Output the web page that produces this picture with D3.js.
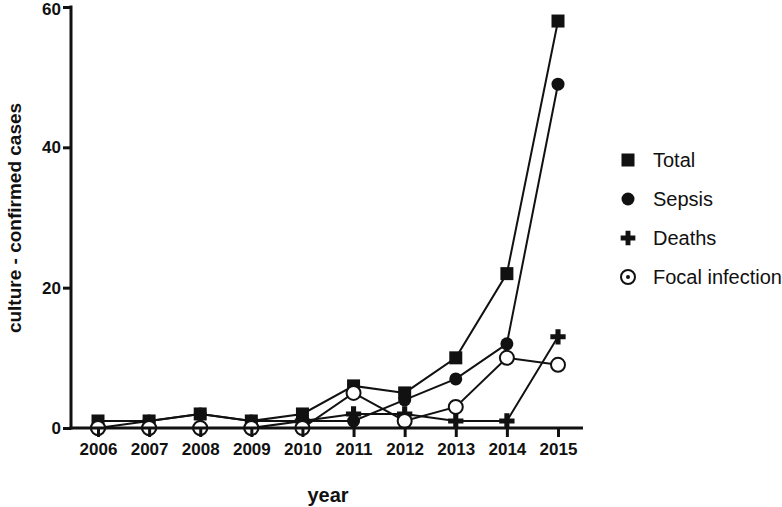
<!DOCTYPE html>
<html>
<head>
<meta charset="utf-8">
<style>
body { margin: 0; background: #fff; }
text { font-family: "Liberation Sans", Arial, sans-serif; fill: #111; }
.axis text { font-weight: bold; font-size: 17px; }
.axis path, .axis line { stroke: #111; stroke-width: 3px; }
.series { fill: none; stroke: #111; stroke-width: 2px; }
</style>
</head>
<body>
<script src="https://cdn.jsdelivr.net/npm/d3@7"></script>
<script>

var years = [2006, 2007, 2008, 2009, 2010, 2011, 2012, 2013, 2014, 2015];
var total = [1, 1, 2, 1, 2, 6, 5, 10, 22, 58];
var sepsis = [0, 1, 2, 1, 1, 1, 4, 7, 12, 49];
var deaths = [0, 0, 0, 0, 1, 2, 2, 1, 1, 13];
var focal = [0, 0, 0, 0, 0, 5, 1, 3, 10, 9];
var yTicks = [0, 20, 40, 60];

var series = [
  {name: "Total", values: total, shape: "square"},
  {name: "Sepsis", values: sepsis, shape: "circle"},
  {name: "Deaths", values: deaths, shape: "plus"},
  {name: "Focal infection", values: focal, shape: "open"}
];

var width = 782, height = 507;

var svg = d3.select("body").append("svg")
    .attr("width", width)
    .attr("height", height);

var x = d3.scaleLinear().domain([2006, 2015]).range([98, 558]);
var y = d3.scaleLinear().domain([0, 60]).range([428, 7]);

var line = d3.line()
    .x(function(d, i) { return x(years[i]); })
    .y(function(d) { return y(d); });

svg.append("g").selectAll("path")
    .data(series)
    .enter().append("path")
    .attr("class", "series")
    .attr("d", function(s) { return line(s.values); });

function drawMarker(g, shape, legend) {
  if (shape === "square") {
    g.append("rect").attr("x", -6.5).attr("y", -6.5).attr("width", 13).attr("height", 13).attr("fill", "#111");
  } else if (shape === "circle") {
    g.append("circle").attr("r", 6.5).attr("fill", "#111");
  } else if (shape === "plus") {
    g.append("path").attr("d", d3.symbol().type(d3.symbolCross).size(legend ? 120 : 130)()).attr("fill", "#111");
  } else {
    g.append("circle").attr("r", 7).attr("fill", "#fff").attr("stroke", "#111").attr("stroke-width", 2);
    if (legend) g.append("circle").attr("r", 2).attr("fill", "#111");
  }
}

series.forEach(function(s) {
  svg.append("g").selectAll("g")
      .data(s.values)
      .enter().append("g")
      .attr("transform", function(d, i) { return "translate(" + x(years[i]) + "," + y(d) + ")"; })
      .each(function() { drawMarker(d3.select(this), s.shape, false); });
});

// axes on top of the markers, like the original
var ya = svg.append("g")
    .attr("class", "axis")
    .attr("transform", "translate(71,0)")
    .call(d3.axisLeft(y).tickValues(yTicks).tickSize(8).tickSizeOuter(0).tickPadding(2));
ya.select(".domain").attr("d", "M0," + (y(60) - 1.5) + "V" + (y(0) + 1.5));
// top label sits right at the edge, nudge it in a bit
ya.selectAll(".tick text").filter(function(d) { return d === 60; }).attr("dy", "0.45em");

var xa = svg.append("g")
    .attr("class", "axis")
    .attr("transform", "translate(0," + y(0) + ")")
    .call(d3.axisBottom(x).tickValues(years).tickFormat(d3.format("d")).tickSize(9).tickSizeOuter(0).tickPadding(4));
xa.select(".domain").attr("d", "M69.5,0H583");
xa.selectAll("text").attr("dy", "0.85em");

svg.append("text")
    .attr("x", 328).attr("y", 502)
    .attr("text-anchor", "middle")
    .style("font-weight", "bold").style("font-size", "20px")
    .text("year");

svg.append("text")
    .attr("transform", "translate(21,218) rotate(-90)")
    .attr("text-anchor", "middle")
    .style("font-weight", "bold").style("font-size", "19px")
    .text("culture - confirmed cases");

// legend
var legend = svg.append("g").attr("transform", "translate(628,160)");
series.forEach(function(s, i) {
  var row = legend.append("g").attr("transform", "translate(0," + (i * 39) + ")");
  drawMarker(row, s.shape, true);
  row.append("text")
      .attr("x", 25).attr("y", 7)
      .style("font-size", "20px")
      .text(s.name);
});

</script>
</body>
</html>
